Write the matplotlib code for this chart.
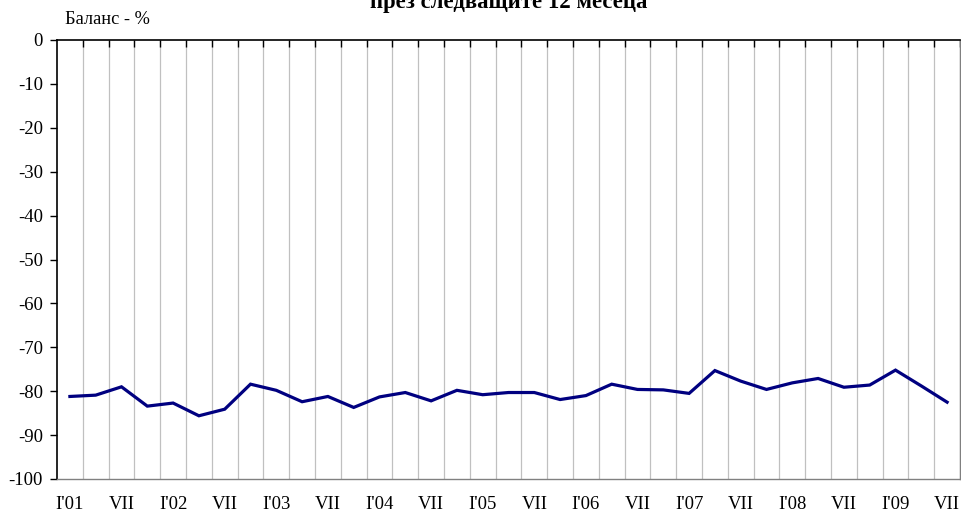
import matplotlib
matplotlib.use("Agg")
import matplotlib.pyplot as plt
import numpy as np

plt.rcParams['font.family'] = ['Liberation Serif', 'DejaVu Serif']

quarters = ["I'01", "IV", "VII", "X", "I'02", "IV", "VII", "X", "I'03", "IV", "VII", "X",
            "I'04", "IV", "VII", "X", "I'05", "IV", "VII", "X", "I'06", "IV", "VII", "X",
            "I'07", "IV", "VII", "X", "I'08", "IV", "VII", "X", "I'09", "IV", "VII"]
balance = [-81.2, -80.9, -79.0, -83.4, -82.7, -85.6, -84.1, -78.4, -79.8, -82.4, -81.2, -83.7,
           -81.3, -80.3, -82.2, -79.8, -80.8, -80.3, -80.3, -81.9, -81.0, -78.4, -79.6, -79.7,
           -80.5, -75.3, -77.7, -79.6, -78.1, -77.1, -79.1, -78.6, -75.2, -78.8, -82.5]
y_ticks = list(range(0, -101, -10))
title_text = "през следващите 12 месеца"
ylabel_text = "Баланс - %"

W, H = 962, 515
fig = plt.figure(figsize=(W / 100, H / 100), dpi=100)
ax = fig.add_axes([57 / W, 1 - 479 / H, (960 - 57) / W, (479 - 40) / H])

n = len(quarters)
x = np.arange(n)
ax.plot(x, balance, color='#000080', linewidth=2.3, solid_joinstyle='miter', zorder=3)

ax.set_xlim(-0.5, n - 0.5)
ax.set_ylim(-100, 0)

# vertical gridlines at category boundaries
bounds = np.arange(0.5, n, 1.0)
for b in bounds:
    ax.axvline(b, color='#c0c0c0', linewidth=0.9, zorder=1)

ax.set_xticks(bounds, minor=True)
ax.set_xticks(x[::2])
ax.set_xticklabels([quarters[i] for i in range(0, n, 2)], fontsize=13.5)
ax.tick_params(axis='x', which='major', length=0, pad=12, bottom=True, top=False)
ax.tick_params(axis='x', which='minor', length=5, width=1.0, direction='in',
               top=True, bottom=False, color='black')

ax.set_yticks(y_ticks)
ax.set_yticklabels([str(v) for v in y_ticks], fontsize=13.5)
ax.tick_params(axis='y', which='major', length=5, width=1.0, direction='out', pad=5)

for side in ['left', 'top']:
    ax.spines[side].set_color('black')
    ax.spines[side].set_linewidth(1.2)
for side in ['bottom', 'right']:
    ax.spines[side].set_color('#808080')
    ax.spines[side].set_linewidth(1.0)

fig.text(65 / W, 1 - 19 / H, ylabel_text, fontsize=13.2, ha='left', va='center')
fig.text(509 / W, 1 - 8 / H, title_text, fontsize=16.4, fontweight='bold',
         ha='center', va='baseline')

fig.savefig('out.png', dpi=100)
